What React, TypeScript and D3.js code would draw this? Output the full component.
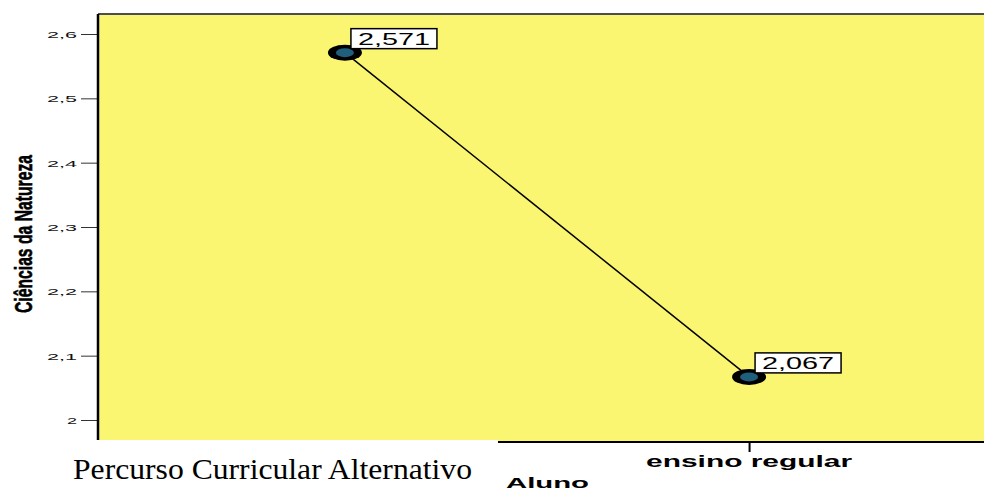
import React, { useRef, useEffect } from 'react';
import * as d3 from 'd3';

const categories = ['Percurso Curricular Alternativo', 'ensino regular'];
const means = [2.571, 2.067];
const meanLabels = ['2,571', '2,067'];
const yTicks = [2, 2.1, 2.2, 2.3, 2.4, 2.5, 2.6];
const yTickLabels = ['2', '2,1', '2,2', '2,3', '2,4', '2,5', '2,6'];

const SANS = '"Liberation Sans", Arial, sans-serif';
const SERIF = '"Liberation Serif", "Times New Roman", serif';

function App() {
  const chartRef = useRef<SVGSVGElement>(null);

  useEffect(() => {
    drawChart();
  }, []);

  const drawChart = () => {
    const W = 984;
    const H = 490;
    const left = 98;
    const top = 14;
    const bottom = 441;

    const svg = d3.select(chartRef.current);
    svg.selectAll('*').remove();
    svg.attr('width', W).attr('height', H);

    const x = d3.scalePoint<string>()
      .domain(categories)
      .range([left, 996])
      .padding(0.611);

    const y = d3.scaleLinear()
      .domain([2, 2.6])
      .range([420, 34]);

    // plot area
    svg.append('rect')
      .attr('x', left)
      .attr('y', top)
      .attr('width', W - left)
      .attr('height', bottom - top)
      .attr('fill', '#FAF672');

    svg.append('line')
      .attr('x1', left).attr('x2', W)
      .attr('y1', top).attr('y2', top)
      .attr('stroke', '#4d4d4d')
      .attr('stroke-width', 2);

    // mean line
    const line = d3.line<number>()
      .x((d, i) => x(categories[i]) as number)
      .y(d => y(d));

    svg.append('path')
      .datum(means)
      .attr('fill', 'none')
      .attr('stroke', '#000')
      .attr('stroke-width', 1.5)
      .attr('d', line);

    // markers
    const pts = svg.selectAll('.pt')
      .data(means)
      .enter().append('g')
      .attr('class', 'pt')
      .attr('transform', (d, i) => `translate(${x(categories[i])},${y(d)})`);

    pts.append('ellipse')
      .attr('rx', 17).attr('ry', 8)
      .attr('fill', '#000');

    pts.append('ellipse')
      .attr('rx', 9).attr('ry', 4.5)
      .attr('fill', '#1F5F7B');

    // value labels
    pts.append('rect')
      .attr('x', 6).attr('y', -24)
      .attr('width', 86).attr('height', 20)
      .attr('fill', '#fff')
      .attr('stroke', '#000')
      .attr('stroke-width', 1.5);

    pts.append('text')
      .attr('x', 13).attr('y', -8)
      .attr('font-family', SANS)
      .attr('font-size', 16)
      .attr('fill', '#000')
      .attr('textLength', 72)
      .attr('lengthAdjust', 'spacingAndGlyphs')
      .text((d, i) => meanLabels[i]);

    // y axis
    const yAxis = svg.append('g')
      .attr('transform', 'translate(97,0)')
      .call(d3.axisLeft(y)
        .tickValues(yTicks)
        .tickFormat((d, i) => yTickLabels[i])
        .tickSize(16)
        .tickSizeOuter(0)
        .tickPadding(4));

    yAxis.select('.domain').remove();
    yAxis.selectAll('.tick line').attr('stroke', '#333');
    yAxis.selectAll<SVGTextElement, number>('.tick text')
      .attr('font-family', SANS)
      .attr('font-size', 9)
      .attr('fill', '#111')
      .attr('dy', '0.4em')
      .attr('textLength', (d, i) => yTickLabels[i].length * 10)
      .attr('lengthAdjust', 'spacingAndGlyphs');

    svg.append('line')
      .attr('x1', left).attr('x2', left)
      .attr('y1', top).attr('y2', bottom)
      .attr('stroke', '#000')
      .attr('stroke-width', 2.5);

    // x axis
    const xAxis = svg.append('g')
      .attr('transform', `translate(0,${bottom + 1})`)
      .call(d3.axisBottom(x)
        .tickSize(10)
        .tickSizeOuter(0)
        .tickFormat(() => ''));

    xAxis.select('.domain').remove();
    xAxis.selectAll('.tick line')
      .attr('stroke', '#000')
      .attr('stroke-width', 2);

    svg.append('line')
      .attr('x1', left).attr('x2', W)
      .attr('y1', bottom + 1).attr('y2', bottom + 1)
      .attr('stroke', '#000')
      .attr('stroke-width', 2);

    svg.append('text')
      .attr('x', x(categories[1]) as number)
      .attr('y', 467)
      .attr('text-anchor', 'middle')
      .attr('font-family', SANS)
      .attr('font-weight', 'bold')
      .attr('font-size', 16)
      .attr('fill', '#000')
      .attr('textLength', 206)
      .attr('lengthAdjust', 'spacingAndGlyphs')
      .text(categories[1]);

    // pasted-over label for the first group
    svg.append('rect')
      .attr('x', 0).attr('y', bottom - 1)
      .attr('width', 498).attr('height', H - bottom + 1)
      .attr('fill', '#fff');

    svg.append('text')
      .attr('x', 73)
      .attr('y', 479)
      .attr('font-family', SERIF)
      .attr('font-size', 28.5)
      .attr('fill', '#000')
      .attr('textLength', 399)
      .attr('lengthAdjust', 'spacingAndGlyphs')
      .text(categories[0]);

    // axis titles
    svg.append('text')
      .attr('transform', 'translate(32,234) scale(1.9,1) rotate(-90)')
      .attr('text-anchor', 'middle')
      .attr('font-family', SANS)
      .attr('font-weight', 'bold')
      .attr('font-size', 12.5)
      .attr('fill', '#000')
      .attr('stroke', '#000')
      .attr('stroke-width', 0.3)
      .attr('textLength', 158)
      .attr('lengthAdjust', 'spacingAndGlyphs')
      .text('Ciências da Natureza');

    svg.append('text')
      .attr('x', 506)
      .attr('y', 488)
      .attr('font-family', SANS)
      .attr('font-weight', 'bold')
      .attr('font-size', 14)
      .attr('fill', '#000')
      .attr('textLength', 83)
      .attr('lengthAdjust', 'spacingAndGlyphs')
      .text('Aluno');
  };

  return (
    <svg ref={chartRef} style={{ position: 'absolute', left: 0, top: 0, display: 'block' }}></svg>
  );
}

export default App;
